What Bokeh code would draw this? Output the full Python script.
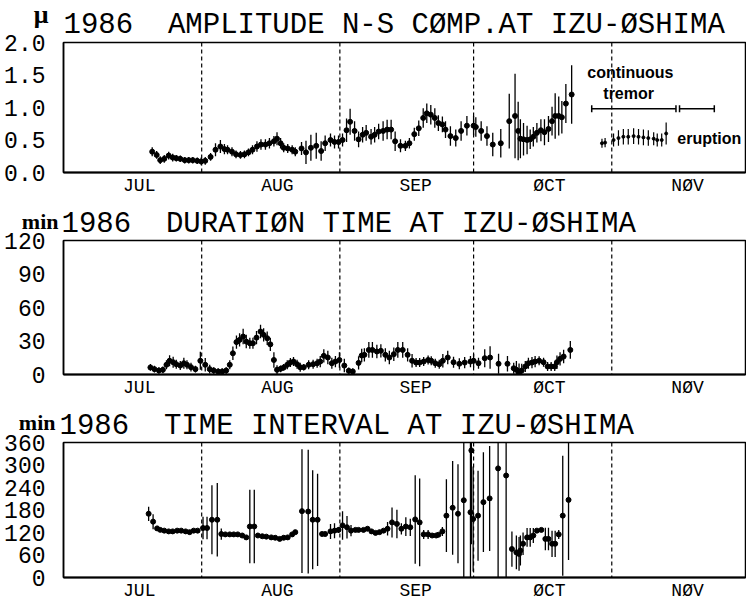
import math
from bokeh.plotting import figure
from bokeh.layouts import column
from bokeh.models import Range1d, FixedTicker, Label, Span
from bokeh.core.properties import value
from bokeh.embed import file_html
from bokeh.resources import INLINE

# ---------------- calendar (days counted from 1 Jul 1986) ----------------
month_names = ["JUL", "AUG", "SEP", "ØCT", "NØV"]
month_start = [0, 31, 62, 92, 123]
period_end = 153
label_day = 17

# ---------------- panel 1 : amplitude N-S component (micron) ----------------
amp_day = [19.9, 20.9, 21.7, 22.6, 23.6, 24.5, 25.3, 26.2, 27.2, 28.1,
           29.0, 30.0, 30.9, 31.8, 33.0, 34.1, 35.2, 36.1, 36.8, 37.8,
           38.7, 39.7, 40.6, 41.5, 42.4, 43.4, 44.3, 45.3, 46.2, 47.2,
           47.9, 48.7, 49.4, 50.3, 51.3, 52.0, 53.4, 54.4, 55.5, 56.7,
           57.8, 58.7, 59.9, 60.8, 61.7, 62.6, 63.5, 64.3, 65.3, 66.2,
           67.1, 67.9, 69.0, 69.8, 70.7, 71.7, 72.6, 73.5, 74.4, 75.6,
           76.7, 77.6, 78.7, 79.7, 80.7, 81.5, 82.4, 83.3, 84.1, 85.0,
           85.7, 86.8, 88.0, 89.2, 90.5, 92.0, 92.5, 93.7, 95.0, 96.3,
           98.1, 100.0, 101.3, 102.0, 102.5, 103.2, 104.0, 104.7, 105.4, 106.2,
           107.1, 107.9, 108.8, 109.6, 110.3, 111.1, 111.8, 112.7, 114.0]
amp_val = [0.32, 0.27, 0.19, 0.21, 0.26, 0.23, 0.22, 0.21, 0.19, 0.19,
           0.19, 0.18, 0.17, 0.18, 0.24, 0.35, 0.40, 0.36, 0.35, 0.32,
           0.28, 0.27, 0.28, 0.31, 0.35, 0.40, 0.43, 0.43, 0.45, 0.48,
           0.52, 0.45, 0.38, 0.37, 0.35, 0.32, 0.37, 0.31, 0.38, 0.41,
           0.33, 0.45, 0.50, 0.47, 0.47, 0.50, 0.65, 0.78, 0.64, 0.51,
           0.58, 0.61, 0.55, 0.58, 0.63, 0.64, 0.66, 0.66, 0.48, 0.41,
           0.41, 0.45, 0.59, 0.68, 0.84, 0.91, 0.89, 0.84, 0.76, 0.74,
           0.66, 0.56, 0.53, 0.64, 0.72, 0.72, 0.70, 0.64, 0.56, 0.43,
           0.45, 0.79, 0.87, 0.64, 0.52, 0.51, 0.50, 0.51, 0.55, 0.61,
           0.65, 0.62, 0.67, 0.79, 0.87, 0.87, 0.85, 1.06, 1.20]
amp_err = [0.07, 0.06, 0.06, 0.06, 0.06, 0.06, 0.05, 0.05, 0.05, 0.05,
           0.05, 0.05, 0.06, 0.06, 0.06, 0.10, 0.10, 0.08, 0.07, 0.07,
           0.06, 0.06, 0.06, 0.06, 0.07, 0.08, 0.08, 0.08, 0.08, 0.08,
           0.10, 0.08, 0.07, 0.07, 0.07, 0.07, 0.10, 0.18, 0.20, 0.20,
           0.15, 0.12, 0.10, 0.10, 0.10, 0.10, 0.18, 0.20, 0.15, 0.12,
           0.12, 0.12, 0.12, 0.12, 0.12, 0.15, 0.15, 0.15, 0.15, 0.10,
           0.08, 0.08, 0.10, 0.12, 0.15, 0.15, 0.15, 0.15, 0.12, 0.12,
           0.13, 0.15, 0.13, 0.15, 0.15, 0.15, 0.15, 0.15, 0.15, 0.18,
           0.22, 0.42, 0.65, 0.45, 0.30, 0.25, 0.22, 0.15, 0.15, 0.15,
           0.17, 0.20, 0.20, 0.22, 0.35, 0.30, 0.25, 0.30, 0.45]

erup_day = [120.8, 121.5, 123.4, 124.5, 125.6, 126.7, 127.9, 129.0, 130.1, 131.2,
            132.4, 133.2, 134.2, 135.2]
erup_val = [0.45, 0.46, 0.50, 0.53, 0.55, 0.55, 0.56, 0.55, 0.54, 0.53,
            0.52, 0.50, 0.50, 0.60]
erup_err = [0.07, 0.07, 0.10, 0.12, 0.12, 0.12, 0.12, 0.12, 0.12, 0.12,
            0.10, 0.10, 0.10, 0.17]

tremor_start = [118.5, 138.2]
tremor_end = [137.4, 146.0]
tremor_level = 0.98

# ---------------- panel 2 : duration time (min) ----------------
dur_day = [19.5, 20.4, 21.4, 22.3, 23.1, 23.8, 24.6, 25.3, 26.2, 27.0,
           27.7, 28.6, 29.6, 30.7, 31.8, 32.8, 33.7, 34.7, 35.6, 36.5,
           37.3, 38.0, 38.8, 39.5, 40.3, 41.0, 41.8, 42.5, 43.3, 44.2,
           44.9, 45.7, 46.4, 47.2, 47.9, 48.7, 49.4, 50.2, 50.9, 51.6,
           52.4, 53.1, 53.9, 55.0, 56.0, 56.9, 57.6, 58.4, 59.3, 60.2,
           61.0, 61.9, 63.0, 64.0, 64.9, 66.2,
           66.9, 67.5, 68.5, 69.3, 70.3, 71.2, 72.2, 73.1, 74.1, 75.0,
           76.1, 77.2, 78.2, 79.1, 79.9, 80.8, 81.8, 82.5, 83.4, 84.3,
           85.1, 86.2, 87.5, 88.8, 90.0, 91.3, 92.0, 93.1, 94.5, 95.7,
           97.6, 99.6, 101.0, 101.6, 102.2, 102.8, 103.6, 104.3, 105.1, 105.8,
           106.7, 107.7, 108.6, 109.4, 110.2, 110.7, 111.4, 112.2, 113.7]
dur_val = [6.3, 4.8, 3.6, 4.2, 8.7, 12.3, 11, 9.2, 8, 10.1,
           8.7, 6.6, 4.8, 12.3, 8.7, 4.8, 3.6, 2.7, 2.7, 3.6,
           8.7, 19, 29, 31, 34, 29.5, 28, 28, 33, 38.5,
           35.5, 32.5, 27, 13, 4.2, 5.1, 6.3, 8.7, 10.7, 11.6,
           9.2, 6.5, 6.5, 8.7, 9.2, 10.1, 11.6, 16.7, 15.2, 10.1,
           11.6, 13, 8, 3.3, 2.7, 10.4,
           17, 17.6, 22, 22, 20.6, 21.2, 17.6, 15.2, 18.2, 22,
           22, 17.6, 12.3, 10.7, 10.7, 11.6, 13, 12.3, 10.1, 9.2,
           12.3, 15.2, 11, 9.6, 10.7, 11.6, 12.3, 10.1, 14.6, 15.2,
           9.6, 9.6, 5.6, 4.2, 1.8, 3.6, 7.2, 10.1, 10.7, 11.6,
           12.3, 11, 7.2, 7.2, 7.2, 11, 14, 16.1, 22]
dur_err = [3, 3, 3, 3, 4, 5, 5, 4, 4, 5,
           4, 4, 3, 8, 6, 4, 3, 3, 3, 3,
           4, 6, 6, 6, 7, 6, 5, 5, 6, 6,
           6, 6, 6, 7, 4, 3, 3, 4, 4, 4,
           4, 4, 3, 4, 4, 4, 5, 6, 6, 5,
           5, 7, 6, 3, 3, 6,
           6, 6, 7, 7, 6, 6, 6, 6, 6, 7,
           7, 6, 6, 4, 4, 4, 4, 4, 4, 4,
           6, 6, 5, 5, 5, 5, 6, 5, 8, 10,
           9, 7, 5, 8, 8, 6, 5, 5, 5, 5,
           4, 4, 4, 4, 4, 6, 6, 6, 8]

# ---------------- panel 3 : time interval (min) ----------------
int_day = [19.1, 20.1, 21.0, 21.7, 22.6, 23.6, 24.5, 25.5, 26.4, 27.4,
           28.3, 29.2, 30.1, 31.3, 32.2, 33.3, 34.5, 35.4, 36.3, 37.3,
           38.2, 39.1, 40.1, 41.0, 41.8, 42.8, 43.6, 44.6, 45.5, 46.6,
           47.5, 48.5, 49.4, 50.3, 51.3, 52.0, 53.5, 54.9, 55.9, 57.0,
           58.0, 58.7, 59.9, 60.8, 61.7, 62.6, 63.6, 64.5, 65.5, 66.2,
           67.3, 68.2, 69.1, 70.0, 70.9, 71.8, 72.7, 73.7, 74.8, 75.8,
           76.8, 77.8, 78.9, 79.9, 80.8, 81.8, 82.7, 83.6, 84.1, 85.0,
           85.9, 87.3, 88.5, 89.8, 91.3, 91.5, 91.9, 93.0, 94.2, 95.6,
           97.5, 99.3, 100.6, 101.6, 102.2, 102.5, 103.1, 104.0, 104.7, 105.4,
           106.2, 107.2, 108.1, 108.8, 109.6, 110.3, 111.1, 112.0, 113.3]
int_val = [170, 149, 131, 127, 125, 123, 123, 125, 125, 123,
           121, 125, 125, 132, 132, 154, 154, 116, 115, 115,
           115, 115, 112, 107, 136, 136, 112, 110, 109, 107,
           106, 103, 106, 107, 115, 121, 177, 176, 154, 154,
           116, 116, 123, 125, 127, 139, 134, 125, 127, 127,
           127, 130, 123, 119, 121, 125, 130, 147, 143, 130,
           136, 134, 155, 147, 115, 115, 112, 112, 114, 123,
           165, 186, 170, 206, 174, 339, 156, 165, 201, 211,
           291, 272, 76, 67, 63, 72, 90, 107, 107, 112,
           125, 127, 103, 103, 90, 90, 115, 165, 207]
int_err = [19, 20, 6, 5, 4, 4, 4, 4, 4, 4,
           4, 4, 4, 30, 30, 92, 98, 15, 4, 4,
           4, 4, 4, 4, 98, 98, 4, 4, 4, 4,
           4, 4, 4, 4, 4, 4, 165, 165, 132, 123,
           6, 6, 20, 20, 8, 38, 30, 15, 4, 4,
           4, 4, 4, 4, 4, 4, 18, 40, 38, 15,
           25, 23, 118, 117, 12, 12, 4, 4, 4, 12,
           97, 125, 132, 250, 250, 250, 140, 120, 133, 140,
           300, 300, 47, 45, 45, 40, 30, 25, 25, 20,
           4, 4, 30, 30, 35, 35, 12, 160, 160]

amp_ticks = [0.0, 0.5, 1.0, 1.5, 2.0]
amp_tick_labels = ["0.0", "0.5", "1.0", "1.5", "2.0"]
dur_ticks = [0, 30, 60, 90, 120]
dur_tick_labels = ["0", "30", "60", "90", "120"]
int_ticks = [0, 60, 120, 180, 240, 300, 360]
int_tick_labels = ["0", "60", "120", "180", "240", "300", "360"]

NB = "\u00a0"  # keeps the wide gap after the year (SVG collapses plain double spaces)
amp_title = "1986" + NB + " AMPLITUDE N-S CØMP.AT IZU-ØSHIMA"
dur_title = "1986" + NB + " DURATIØN TIME AT IZU-ØSHIMA"
int_title = "1986" + NB + " TIME INTERVAL AT IZU-ØSHIMA"

MONO = "Liberation Mono"
SERIF = "Liberation Serif"
SANS = "Liberation Sans"
FRAME_W = 682
LEFT = 63


def panel(y_max, ticks, tick_labels, title, unit, frame_h, top, bottom,
          title_dx, title_standoff, unit_px_left, unit_px_up, unit_size):
    p = figure(frame_width=FRAME_W, frame_height=frame_h,
               x_range=Range1d(0, period_end), y_range=Range1d(0, y_max),
               output_backend="svg", toolbar_location=None,
               min_border_left=LEFT, min_border_right=1,
               min_border_top=top, min_border_bottom=bottom,
               background_fill_color="white", border_fill_color="white",
               title=title)
    p.title.align = "left"
    p.title.offset = title_dx
    p.title.standoff = title_standoff
    p.title.text_font = MONO
    p.title.text_font_size = "29px"
    p.title.text_font_style = "normal"
    p.title.text_color = "black"

    p.grid.visible = False
    p.outline_line_color = "black"
    p.outline_line_width = 1.5

    xa = p.xaxis[0]
    xa.ticker = FixedTicker(ticks=[s + label_day for s in month_start])
    xa.major_label_overrides = {s + label_day: n for s, n in zip(month_start, month_names)}
    xa.major_tick_line_color = None
    xa.minor_tick_line_color = None
    xa.major_tick_out = 0
    xa.major_tick_in = 0
    xa.axis_line_width = 2
    xa.major_label_text_font = MONO
    xa.major_label_text_font_size = "18px"
    xa.major_label_text_color = "black"
    xa.major_label_standoff = 3

    ya = p.yaxis[0]
    ya.ticker = FixedTicker(ticks=ticks)
    ya.major_label_overrides = {t: l for t, l in zip(ticks, tick_labels)}
    ya.major_tick_line_color = None
    ya.minor_tick_line_color = None
    ya.major_tick_out = 0
    ya.major_tick_in = 0
    ya.axis_line_width = 1.5
    ya.major_label_text_font = MONO
    ya.major_label_text_font_size = "23px"
    ya.major_label_text_color = "black"
    ya.major_label_standoff = 18

    for s in month_start[1:]:
        p.add_layout(Span(location=s, dimension="height", line_color="black",
                          line_width=1.2, line_dash="4 3"))

    # unit label in the upper-left corner, outside the frame (overlay level, unclipped)
    ux = -unit_px_left * period_end / FRAME_W
    uy = y_max + unit_px_up * y_max / frame_h
    p.text(x=[ux], y=[uy], text=[unit], text_font=value(SERIF), text_font_style="bold",
           text_font_size=value(unit_size), text_color="black",
           text_align="right", text_baseline="alphabetic", level="overlay")
    return p


def error_series(p, xs, vs, es, size=5, width=1.3):
    p.segment(x0=xs, y0=[v - e for v, e in zip(vs, es)],
              x1=xs, y1=[v + e for v, e in zip(vs, es)],
              line_color="black", line_width=width)
    p.scatter(x=xs, y=vs, size=size, marker="circle", fill_color="black", line_color="black")


p1 = panel(2.0, amp_ticks, amp_tick_labels, amp_title, "μ",
           130, 42, 33, 0, 2, 15, 28, "26px")
error_series(p1, amp_day, amp_val, amp_err)
error_series(p1, erup_day, erup_val, erup_err, size=3, width=1.2)
p1.segment(x0=tremor_start, y0=[tremor_level] * len(tremor_start),
           x1=tremor_end, y1=[tremor_level] * len(tremor_end),
           line_color="black", line_width=1.5)
p1.scatter(x=tremor_start + tremor_end, y=[tremor_level] * (len(tremor_start) + len(tremor_end)),
           marker="dash", angle=math.pi / 2, size=7, line_color="black", line_width=1.5)
for txt, xd, yv in [("continuous", 117.5, 1.54), ("tremor", 121.1, 1.22), ("eruption", 137.7, 0.53)]:
    p1.add_layout(Label(x=xd, y=yv, text=txt, text_font=SANS, text_font_style="bold",
                        text_font_size="16px", text_color="black",
                        text_align="left", text_baseline="middle"))

p2 = panel(120, dur_ticks, dur_tick_labels, dur_title, "min",
           134, 35, 33, -2, 0, 5, 19, "22px")
error_series(p2, dur_day, dur_val, dur_err)

p3 = panel(360, int_ticks, int_tick_labels, int_title, "min",
           135, 35, 25, -4, 0, 8, 20, "22px")
error_series(p3, int_day, int_val, int_err)

layout = column(p1, p2, p3, spacing=0)
open("out.html", "w").write(file_html(layout, INLINE))
